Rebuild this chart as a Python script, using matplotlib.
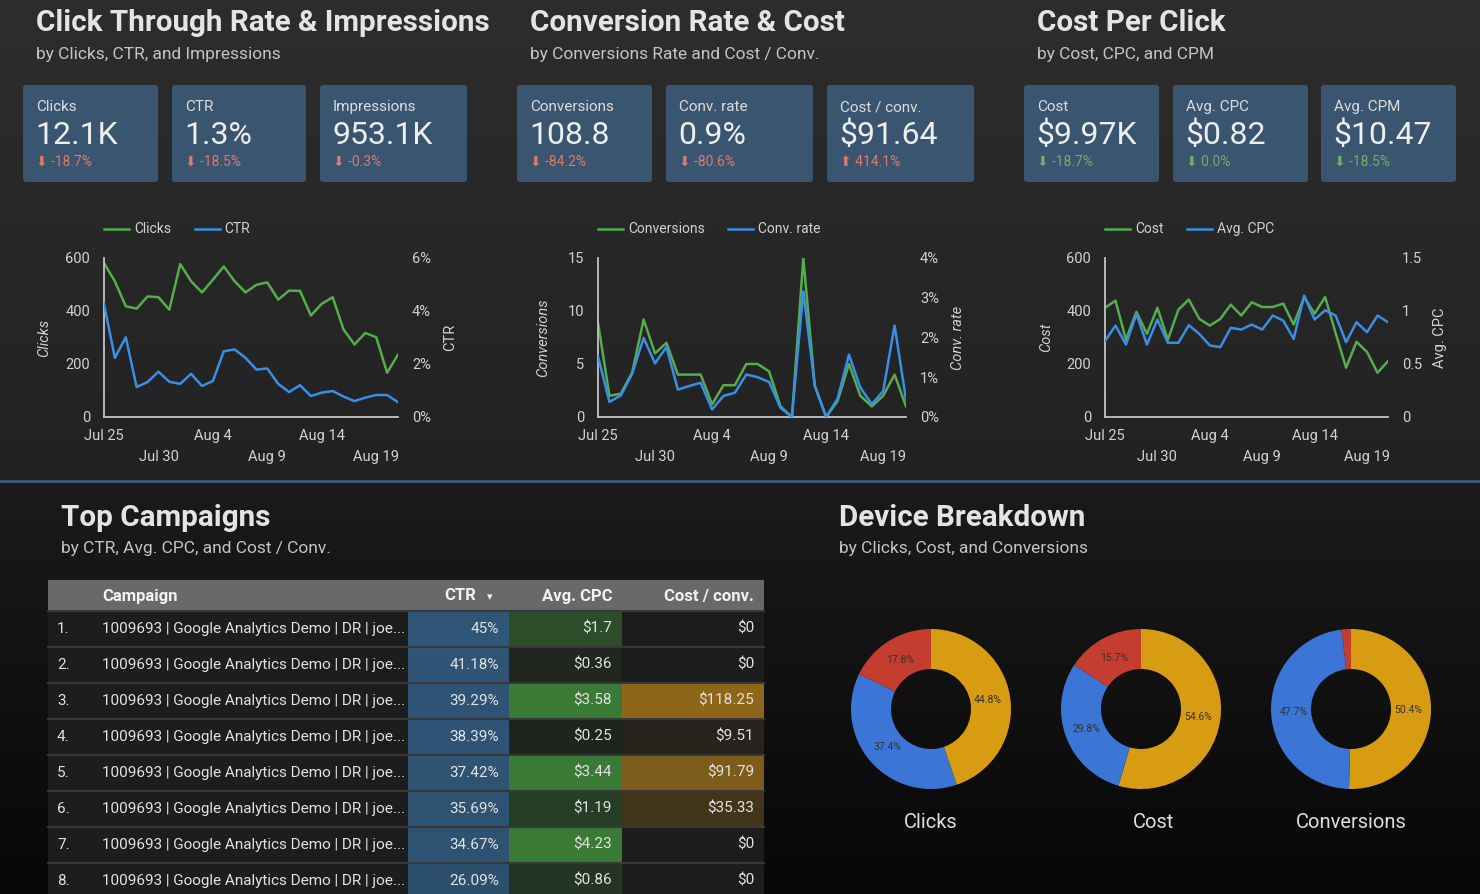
import numpy as np
import pandas as pd
import matplotlib
matplotlib.use("Agg")
import matplotlib.pyplot as plt
from matplotlib.patches import FancyBboxPatch, Rectangle
from matplotlib.colors import to_rgb

plt.rcParams['font.family'] = ['Roboto', 'DejaVu Sans']

W, H = 1480, 894

# ---- data ----
dates = pd.date_range("2019-07-25", "2019-08-21")

clicks = [581, 512, 418, 409, 455, 452, 405, 577, 512, 470, 518, 568, 512, 470,
          499, 508, 443, 477, 476, 383, 427, 452, 330, 274, 317, 301, 167, 236]
ctr = [4.27, 2.23, 3.01, 1.13, 1.32, 1.71, 1.33, 1.25, 1.63, 1.17, 1.36, 2.48, 2.55, 2.23,
       1.79, 1.83, 1.25, 0.94, 1.20, 0.79, 0.92, 0.98, 0.77, 0.60, 0.73, 0.83, 0.83, 0.56]

conversions = [8.9, 2.0, 2.2, 4.2, 9.2, 6.0, 7.0, 4.0, 4.0, 4.0, 1.2, 3.0, 3.0, 5.0,
               5.0, 4.3, 1.0, 0.0, 15.0, 3.0, 0.0, 1.5, 5.0, 2.0, 1.0, 2.0, 4.0, 1.0]
conv_rate = [1.53, 0.38, 0.54, 1.09, 1.99, 1.35, 1.76, 0.69, 0.78, 0.86, 0.19, 0.53, 0.61, 1.07,
             1.00, 0.88, 0.23, 0.0, 3.16, 0.78, 0.0, 0.46, 1.57, 0.74, 0.32, 0.65, 2.30, 0.44]

cost = [412, 439, 292, 397, 314, 412, 292, 405, 443, 370, 345, 370, 424, 383,
        433, 415, 415, 428, 349, 452, 390, 453, 317, 186, 284, 245, 167, 211]
avg_cpc = [0.715, 0.863, 0.684, 0.973, 0.684, 0.919, 0.70, 0.70, 0.866, 0.784, 0.675, 0.659, 0.841, 0.825,
           0.872, 0.825, 0.957, 0.910, 0.737, 1.145, 0.919, 1.007, 0.957, 0.706, 0.894, 0.800, 0.957, 0.894]

date_ticks = ["Jul 25", "\nJul 30", "Aug 4", "\nAug 9", "Aug 14", "\nAug 19"]

kpi_labels = ["Clicks", "CTR", "Impressions", "Conversions", "Conv. rate", "Cost / conv.",
              "Cost", "Avg. CPC", "Avg. CPM"]
kpi_values = ["12.1K", "1.3%", "953.1K", "108.8", "0.9%", "$91.64", "$9.97K", "$0.82", "$10.47"]
kpi_changes = ["-18.7%", "-18.5%", "-0.3%", "-84.2%", "-80.6%", "414.1%", "-18.7%", "0.0%", "-18.5%"]
kpi_good = [False, False, False, False, False, False, True, True, True]

campaigns = ["1009693 | Google Analytics Demo | DR | joe..."] * 8
camp_ctr = [45, 41.18, 39.29, 38.39, 37.42, 35.69, 34.67, 26.09]
camp_cpc = [1.7, 0.36, 3.58, 0.25, 3.44, 1.19, 4.23, 0.86]
camp_cost_conv = [0, 0, 118.25, 9.51, 91.79, 35.33, 0, 0]

device_metrics = ["Clicks", "Cost", "Conversions"]
device_shares = [[44.8, 37.4, 17.8], [54.6, 29.8, 15.7], [50.4, 47.7, 1.9]]

# ---- styling ----
GREEN = '#55ad4c'
BLUE = '#3b8ee6'
TXT = '#d2d2d2'
CARD = '#3a5570'
DEVICE_COLORS = ['#d89c12', '#3b75d6', '#c43d2e']


def px_rect(left, top, right, bottom):
    return [left / W, 1 - bottom / H, (right - left) / W, (bottom - top) / H]


def blend(c1, c2, t):
    a, b = np.array(to_rgb(c1)), np.array(to_rgb(c2))
    return tuple(a + (b - a) * t)


fig = plt.figure(figsize=(W / 100, H / 100), dpi=100)
bg = fig.add_axes([0, 0, 1, 1])

# background: top panel and bottom panel gradients
steps = np.linspace(0, 1, 100)
bg.imshow(np.array([blend('#2d2d2d', '#222222', t) for t in steps]).reshape(100, 1, 3),
          extent=(0, W, 481, 0), aspect='auto', zorder=0)
bg.imshow(np.array([blend('#1b1b1b', '#070707', t) for t in steps]).reshape(100, 1, 3),
          extent=(0, W, H, 481), aspect='auto', zorder=0)
bg.plot([0, W], [481, 481], color='#3c5a7e', lw=2, zorder=1)
bg.set_xlim(0, W)
bg.set_ylim(H, 0)
bg.axis('off')

# section titles
sections = [(36, "Click Through Rate & Impressions", "by Clicks, CTR, and Impressions"),
            (530, "Conversion Rate & Cost", "by Conversions Rate and Cost / Conv."),
            (1037, "Cost Per Click", "by Cost, CPC, and CPM"),
            (61, "Top Campaigns", "by CTR, Avg. CPC, and Cost / Conv."),
            (839, "Device Breakdown", "by Clicks, Cost, and Conversions")]
for i, (x, t, s) in enumerate(sections):
    y0 = 22 if i < 3 else 517
    bg.text(x, y0 + 1, t, fontsize=21.3, fontweight='bold', color='#e4e4e4', va='center')
    bg.text(x, y0 + 32, s, fontsize=12.5, color='#c4c4c4', va='center')

# KPI cards
card_x = [(23, 158), (172, 306), (320, 467), (517, 652), (666, 813), (827, 974),
          (1024, 1159), (1173, 1308), (1321, 1456)]
for (x0, x1), lab, val, chg, good in zip(card_x, kpi_labels, kpi_values, kpi_changes, kpi_good):
    bg.add_patch(FancyBboxPatch((x0, 85), x1 - x0, 97, boxstyle="round,pad=0,rounding_size=3",
                                fc=CARD, ec='none', zorder=2))
    bg.text(x0 + 13, 107, lab, fontsize=11, color='#dcdcdc', va='center', zorder=3)
    bg.text(x0 + 12, 135, val, fontsize=23, color='#eeeeee', va='center', zorder=3)
    arrow = "⬆" if not chg.startswith("-") and chg != "0.0%" else "⬇"
    col = '#6fae6a' if good else '#e0786c'
    bg.text(x0 + 13, 162, arrow + " " + chg, fontsize=10, color=col, va='center', zorder=3)


def line_chart(rect, y1, y2, names, lim1, ticks1, lim2, ticks2, labels2, lab_x, italic2):
    ax = fig.add_axes(px_rect(*rect))
    ax2 = ax.twinx()
    ax.set_zorder(2)
    ax2.set_zorder(3)
    for a in (ax, ax2):
        a.patch.set_visible(False)
        for s in a.spines.values():
            s.set_visible(False)
    for side in ('left', 'bottom'):
        ax.spines[side].set_visible(True)
        ax.spines[side].set_color('#c4c4c4')
        ax.spines[side].set_linewidth(1.3)
    l1, = ax.plot(dates, y1, color=GREEN, lw=1.8, label=names[0])
    l2, = ax2.plot(dates, y2, color=BLUE, lw=1.8, label=names[1])
    ax.set_xlim(dates[0], dates[-1])
    ax.set_ylim(*lim1)
    ax.set_yticks(ticks1)
    ax2.set_ylim(*lim2)
    ax2.set_yticks(ticks2)
    ax2.set_yticklabels(labels2)
    ax.set_xticks(dates[::5])
    ax.set_xticklabels(date_ticks, linespacing=1.55)
    ax.tick_params(axis='both', length=0, colors=TXT, labelsize=10.5)
    ax.tick_params(axis='y', pad=10)
    ax.tick_params(axis='x', pad=9)
    ax2.tick_params(axis='y', length=0, colors=TXT, labelsize=10.5, pad=10)
    ax.set_ylabel(names[0], color=TXT, fontsize=10.5, fontstyle='italic')
    ax.yaxis.set_label_coords(lab_x[0], 0.5)
    ax2.set_ylabel(names[1], color=TXT, fontsize=10.5, fontstyle='italic' if italic2 else 'normal')
    ax2.yaxis.set_label_coords(lab_x[1], 0.5)
    ax.legend(handles=[l1, l2], loc='center left', bbox_to_anchor=(0.0, 1.18), ncol=2, frameon=False,
              fontsize=10, labelcolor=TXT, handlelength=1.8, columnspacing=1.7, handletextpad=0.35,
              borderaxespad=0, borderpad=0)


line_chart((104, 258, 398, 417), clicks, ctr, ("Clicks", "CTR"), (0, 600), [0, 200, 400, 600],
           (0, 6), [0, 2, 4, 6], ["0%", "2%", "4%", "6%"], (-0.18, 1.153), False)
line_chart((598, 258, 906, 417), conversions, conv_rate, ("Conversions", "Conv. rate"), (0, 15),
           [0, 5, 10, 15], (0, 4), [0, 1, 2, 3, 4], ["0%", "1%", "2%", "3%", "4%"],
           (-0.156, 1.146), True)
line_chart((1105, 258, 1388, 417), cost, avg_cpc, ("Cost", "Avg. CPC"), (0, 600), [0, 200, 400, 600],
           (0, 1.5), [0, 0.5, 1, 1.5], ["0", "0.5", "1", "1.5"], (-0.184, 1.159), False)

# ---- table ----
tx0, tx1 = 48, 764
cols = [(408, 509), (509, 622), (622, 764)]
bg.add_patch(Rectangle((tx0, 580), tx1 - tx0, 31, fc='#696969', ec='none', zorder=2))
hdr = dict(fontsize=12, fontweight='bold', color='#f2f2f2', va='center', zorder=3)
bg.text(102, 596, "Campaign", **hdr)
bg.text(476, 596, "CTR", ha='right', **hdr)
bg.text(490, 597, "▾", fontsize=8, color='#f2f2f2', va='center', ha='center', zorder=3)
bg.text(612, 596, "Avg. CPC", ha='right', **hdr)
bg.text(754, 596, "Cost / conv.", ha='right', **hdr)

row_bg = '#1d1d1d'
ctr_max, cpc_max, cc_max = max(camp_ctr), max(camp_cpc), max(camp_cost_conv)
for i, (name, c1, c2, c3) in enumerate(zip(campaigns, camp_ctr, camp_cpc, camp_cost_conv)):
    top = 611 + 36 * i
    bg.add_patch(Rectangle((tx0, top), tx1 - tx0, 36, fc=row_bg, ec='none', zorder=2))
    fills = [blend(row_bg, '#2f5577', 0.75 + 0.25 * c1 / ctr_max),
             blend(row_bg, '#3a7a36', min(1, 1.25 * c2 / cpc_max)),
             blend(row_bg, '#8e6619', min(1, 1.1 * c3 / cc_max))]
    texts = [f"{c1:g}%", f"${c2:g}", f"${c3:g}"]
    for (cx0, cx1), fc, t in zip(cols, fills, texts):
        bg.add_patch(Rectangle((cx0, top), cx1 - cx0, 36, fc=fc, ec='none', zorder=2))
        bg.text(cx1 - 10, top + 18, t, fontsize=11, color='#e2e2e2', va='center', ha='right', zorder=3)
    bg.plot([tx0, tx1], [top, top], color='#383838', lw=1.5, zorder=3)
    bg.text(57, top + 18, f"{i + 1}.", fontsize=11, color='#e2e2e2', va='center', zorder=3)
    bg.text(102, top + 18, name, fontsize=11, color='#e2e2e2', va='center', zorder=3)

# ---- donuts ----
centers = [931, 1141, 1351]
for cx, metric, shares in zip(centers, device_metrics, device_shares):
    ax = fig.add_axes(px_rect(cx - 85, 709 - 85, cx + 85, 709 + 85))
    wedges, texts, autotexts = ax.pie(shares, colors=DEVICE_COLORS, startangle=90, counterclock=False,
                                      radius=80 / 85, wedgeprops=dict(width=40 / 85, edgecolor='none'),
                                      autopct="%.1f%%", pctdistance=0.72)
    for t, v in zip(autotexts, shares):
        t.set_text(f"{v:.1f}%" if v > 5 else "")
        t.set_fontsize(7.5)
        t.set_color('#333333')
    ax.set_xlim(-1, 1)
    ax.set_ylim(-1, 1)
    ax.set_aspect('equal')
    ax.axis('off')
    bg.text(cx + (12 if metric == "Cost" else 0), 822, metric, fontsize=14.5, color='#dedede',
            ha='center', va='center')

fig.savefig("out.png", dpi=100, facecolor='#222222')
